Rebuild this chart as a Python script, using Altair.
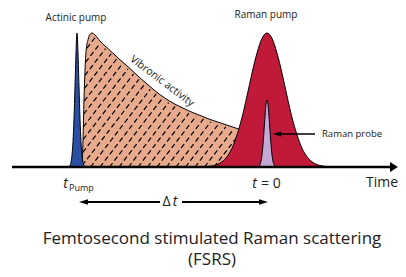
import altair as alt
import numpy as np
import pandas as pd

FONT = "Open Sans"

# ---- pulse / signal shapes (time, relative amplitude) ----
vib_t = [-1.85, -1.84, -1.83, -1.82, -1.81, -1.79, -1.77, -1.75, -1.72, -1.67, -1.57,
         -1.47, -1.37, -1.27, -1.17, -1.07, -0.97, -0.87, -0.77, -0.67, -0.57, -0.47,
         -0.37, -0.27, -0.17, -0.07, 0.03, 0.13, 0.21, 0.26, 0.29]
vib_amp = [0.0, 0.20, 0.50, 0.72, 0.86, 0.95, 0.99, 1.0, 0.985, 0.94, 0.87,
           0.80, 0.735, 0.665, 0.60, 0.54, 0.49, 0.45, 0.415, 0.385, 0.355, 0.33,
           0.305, 0.28, 0.26, 0.24, 0.22, 0.20, 0.15, 0.08, 0.0]

pump_t = [-1.99, -1.98, -1.97, -1.96, -1.95, -1.94, -1.93, -1.92, -1.91, -1.90,
          -1.89, -1.88, -1.87, -1.86, -1.85, -1.84, -1.83, -1.82, -1.81]
pump_amp = [0.001, 0.004, 0.012, 0.035, 0.09, 0.19, 0.36, 0.60, 0.85, 1.0,
            0.85, 0.60, 0.36, 0.19, 0.09, 0.035, 0.012, 0.004, 0.001]

raman_t = [-0.6, -0.55, -0.5, -0.45, -0.4, -0.35, -0.3, -0.25, -0.2, -0.15, -0.1, -0.05, 0.0,
           0.05, 0.1, 0.15, 0.2, 0.25, 0.3, 0.35, 0.4, 0.45, 0.5, 0.55, 0.6]
raman_amp = [0.003, 0.008, 0.018, 0.039, 0.077, 0.14, 0.24, 0.37, 0.53, 0.70, 0.85, 0.96, 1.0,
             0.96, 0.85, 0.70, 0.53, 0.37, 0.24, 0.14, 0.077, 0.039, 0.018, 0.008, 0.003]

probe_t = [-0.08, -0.07, -0.06, -0.05, -0.04, -0.03, -0.02, -0.01, 0.0,
           0.01, 0.02, 0.03, 0.04, 0.05, 0.06, 0.07, 0.08]
probe_amp = [0.006, 0.017, 0.042, 0.09, 0.167, 0.27, 0.38, 0.467, 0.5,
             0.467, 0.38, 0.27, 0.167, 0.09, 0.042, 0.017, 0.006]

# ---- labels ----
label_text = ["Actinic pump", "Raman pump", "Raman probe", "Vibronic activity", "Time"]
title_lines = ["Femtosecond stimulated Raman scattering", "(FSRS)"]

W, H = 390, 261
xs = alt.Scale(domain=[-2.59, 1.31], nice=False, zero=False)
ys = alt.Scale(domain=[-0.7612, 1.1866], nice=False, zero=False)

BLUE = "#2b4fa3"
TAN = "#e8aa8c"
RED = "#c0193a"
LAV = "#c4a9d6"


def area(t, a, color):
    df = pd.DataFrame({"t": t, "amp": a})
    return alt.Chart(df).mark_area(
        interpolate="monotone", color=color, stroke="black", strokeWidth=1, opacity=1
    ).encode(
        x=alt.X("t:Q", scale=xs, axis=None),
        y=alt.Y("amp:Q", scale=ys, axis=None),
        y2=alt.datum(0),
    )


# hatch pattern over the vibronic area (derived from the curve)
slope = 1.3 * 100 / 134
rows = []
vt = np.array(vib_t)
va = np.array(vib_amp)
for i, tb in enumerate(np.arange(-3.0, 0.35, 0.095)):
    ts = np.arange(max(tb, -1.86), 0.30, 0.002)
    a = (ts - tb) * slope
    cur = np.interp(ts, vt, va)
    inside = (a >= 0.0) & (a <= cur - 0.015)
    if inside.sum() < 2:
        continue
    idx = np.where(inside)[0]
    for j in (idx[0], idx[-1]):
        rows.append({"t": float(ts[j]), "amp": float(a[j]), "id": i})
hatch_df = pd.DataFrame(rows)
hatch = alt.Chart(hatch_df).mark_line(
    color="black", strokeWidth=1.2, strokeDash=[5, 3]
).encode(
    x=alt.X("t:Q", scale=xs, axis=None),
    y=alt.Y("amp:Q", scale=ys, axis=None),
    detail="id:N",
)

base = alt.Chart(pd.DataFrame({"k": [0]}))


def seg(t1, t2, a, width):
    return base.mark_rule(color="black", strokeWidth=width).encode(
        x=alt.datum(t1), x2=alt.datum(t2), y=alt.datum(a)
    )


def head(t, a, shape, size):
    return base.mark_point(shape=shape, filled=True, color="black", opacity=1,
                           size=size, strokeWidth=0).encode(
        x=alt.datum(t), y=alt.datum(a)
    )


def txt(s, t, a, size, align="center", baseline="alphabetic", style="normal", angle=0):
    kw = dict(text=s, font=FONT, fontSize=size, align=align, baseline=baseline,
              fontStyle=style, color="#222222")
    if angle:
        kw["angle"] = angle
    return base.mark_text(**kw).encode(x=alt.datum(t), y=alt.datum(a))


RIGHT = "M-1,-0.6 L1,0 L-1,0.6 Z"
LEFT = "M1,-0.6 L-1,0 L1,0.6 Z"
AXHEAD = "M-0.8,-1 L0.8,0 L-0.8,1 Z"

layers = [
    area(vib_t, vib_amp, TAN),
    hatch,
    area(pump_t, pump_amp, BLUE),
    area(raman_t, raman_amp, RED),
    area(probe_t, probe_amp, LAV),
    # time axis
    seg(-2.55, 1.27, 0, 2.5),
    head(1.27, 0, AXHEAD, 100),
    # probe arrow
    seg(0.10, 0.48, 0.246, 1.5),
    head(0.10, 0.246, LEFT, 70),
    # delta t arrow
    seg(-1.83, -1.07, -0.261, 2),
    seg(-0.85, -0.04, -0.261, 2),
    head(-1.835, -0.261, LEFT, 81),
    head(-0.035, -0.261, RIGHT, 81),
    # labels
    txt(label_text[0], -1.91, 1.09, 10),
    txt(label_text[1], -0.01, 1.11, 10),
    txt(label_text[2], 0.55, 0.246, 9.5, align="left", baseline="middle"),
    txt(label_text[3], -1.05, 0.64, 10.5, baseline="middle", angle=37),
    txt(label_text[4], 1.31, -0.149, 14, align="right"),
    txt("t", -2.015, -0.157, 14, style="italic"),
    txt("Pump", -1.98, -0.179, 9, align="left"),
    txt("t", -0.125, -0.157, 14, style="italic"),
    txt("= 0", -0.06, -0.157, 14, align="left"),
    txt("Δ", -1.005, -0.291, 14),
    txt("t", -0.92, -0.291, 14, style="italic"),
    txt(title_lines[0], -0.55, -0.575, 17),
    txt(title_lines[1], -0.55, -0.731, 17),
]

chart = alt.layer(*layers).properties(
    width=W, height=H, padding=0, autosize=alt.AutoSizeParams(type="none"),
    background="white",
).configure_view(strokeWidth=0)

chart.save("out.html", embed_options={"renderer": "svg", "actions": False})
